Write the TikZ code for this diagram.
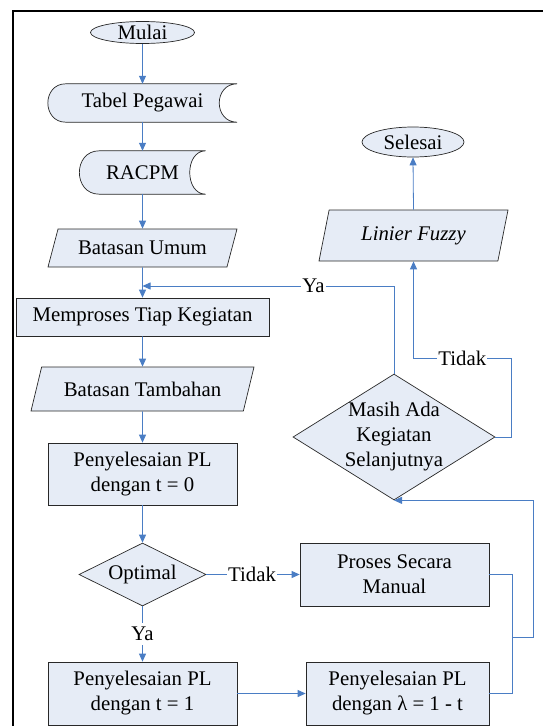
\documentclass[tikz,border=0pt]{standalone}
\usepackage{fontspec}
\setmainfont{LiberationSerif}[Extension=.ttf, UprightFont=*-Regular, ItalicFont=*-Italic, BoldFont=*-Bold]
\usetikzlibrary{shapes.geometric,arrows.meta,backgrounds}
\definecolor{boxfill}{RGB}{230, 236, 246}
\definecolor{flowblue}{RGB}{74, 125, 196}
\definecolor{borderline}{RGB}{40, 40, 40}

% outline of a stored-data block: node name, left bulge, right hollow
\newcommand{\storeoutline}[3]{%
  \begin{scope}[on background layer]
    \filldraw[shape line, fill=boxfill] ([xshift=#2pt]#1.north west) -- (#1.north east)
         .. controls +({-1.33*#3},0) and +({-1.33*#3},0) .. (#1.south east)
         -- ([xshift=#2pt]#1.south west)
         .. controls +({-1.33*#2},0) and +({-1.33*#2},0) .. cycle;
  \end{scope}}

\begin{document}
\begin{tikzpicture}[x=1pt, y=-1pt, font=\fontsize{20.8}{25}\selectfont,
    shape line/.style={draw=borderline, line width=0.7pt},
    block/.style={shape line, fill=boxfill, inner sep=0pt, align=center},
    terminal/.style={block, ellipse},
    process/.style={block, rectangle},
    data/.style={block, trapezium, trapezium stretches body},
    decision/.style={block, diamond},
    stored/.style={inner sep=0pt, align=center},
    flow/.style={draw=flowblue, line width=0.8pt, -{Triangle[length=8pt, width=7pt]}},
    link/.style={draw=flowblue, line width=0.8pt},
    answer/.style={fill=white, inner xsep=1pt, inner ysep=4pt}]
            \useasboundingbox (0, 0) rectangle (543, 726);
            % Frame
            \draw[line width=2pt] (13, 726) -- (13, 11) -- (544, 11);
            % Left column
            \node[terminal, minimum width=104pt, minimum height=22pt] (mulai)     at (142.5,  32.5) {Mulai};
            \node[stored,   minimum width=189pt, minimum height=38pt] (tabel)     at (142.5, 103.0) {Tabel Pegawai};
            \node[stored,   minimum width=126pt, minimum height=43pt] (racpm)     at (142.5, 172.5) {RACPM};
            \node[data, trapezium left angle=54, trapezium right angle=126,
                  minimum width=189pt, minimum height=38pt]           (umum)      at (142.5, 248.0) {Batasan Umum};
            \node[process,  minimum width=253pt, minimum height=38pt] (memproses) at (142.5, 317.0) {Memproses Tiap Kegiatan};
            \node[data, trapezium left angle=54, trapezium right angle=126,
                  minimum width=223pt, minimum height=44pt]           (tambahan)  at (142.5, 389.0) {Batasan Tambahan};
            \node[process,  minimum width=189pt, minimum height=62pt] (pl0)       at (142.5, 474.0) {Penyelesaian PL\\dengan t = 0};
            \node[decision, aspect=2, minimum width=127pt, minimum height=63pt]
                                                                      (optimal)   at (142.5, 574.5) {Optimal};
            \node[process,  minimum width=189pt, minimum height=63pt] (pl1)       at (142.5, 693.5) {Penyelesaian PL\\dengan t = 1};
            \storeoutline{tabel}{18}{18}
            \storeoutline{racpm}{20}{16}
            % Right column
            \node[process,  minimum width=189pt, minimum height=63pt] (proses)    at (394.5, 574.5) {Proses Secara\\Manual};
            \node[process,  minimum width=183pt, minimum height=63pt] (lambda)    at (397.5, 693.5) {Penyelesaian PL\\dengan λ = 1 - t};
            \node[decision, aspect=1.6, inner sep=-5pt, minimum width=202pt, minimum height=126pt]
                                                                      (masih)     at (394.0, 437.0) {Masih Ada\\Kegiatan\\Selanjutnya};
            \node[data, trapezium left angle=61, trapezium right angle=119,
                  minimum width=189pt, minimum height=51pt]           (linier)    at (413.5, 235.5) {\itshape Linier Fuzzy};
            \node[terminal, minimum width=102pt, minimum height=30pt] (selesai)   at (413.0, 142.0) {Selesai};
            % Bends of the connectors
            \coordinate (masuk)      at (142.5, 286);
            \coordinate (tidakbelok) at (511, 358);
            \coordinate (sambung)    at (512, 637);
            \coordinate (kanan)      at (533, 637);
            % Main flow
            \draw[flow] (mulai.south)     -- (tabel.north);
            \draw[flow] (tabel.south)     -- (racpm.north);
            \draw[flow] (racpm.south)     -- (umum.north);
            \draw[flow] (umum.south)      -- (memproses.north);
            \draw[flow] (memproses.south) -- (tambahan.north);
            \draw[flow] (tambahan.south)  -- (pl0.north);
            \draw[flow] (pl0.south)       -- (optimal.north);
            \draw[flow] (optimal.east)    -- (proses.west) node[answer, pos=0.49] {Tidak};
            \draw[flow] (optimal.south)   -- (pl1.north)   node[answer, midway]   {Ya};
            \draw[flow] (pl1.east)        -- (lambda.west);
            % Back to the loop test
            \draw[link] (proses.east) -| (sambung);
            \draw[link] (lambda.east) -| (sambung);
            \draw[flow] (sambung) -- (kanan) |- (masih.south);
            % Loop test
            \draw[flow] (masih.north) |- (masuk) node[answer, pos=0.66] {Ya};
            \draw[flow] (masih.east) -| (tidakbelok) -| (linier.south) node[answer, pos=0.25] {Tidak};
            \draw[flow] (linier.north) -- (selesai.south);
\end{tikzpicture}
\end{document}
